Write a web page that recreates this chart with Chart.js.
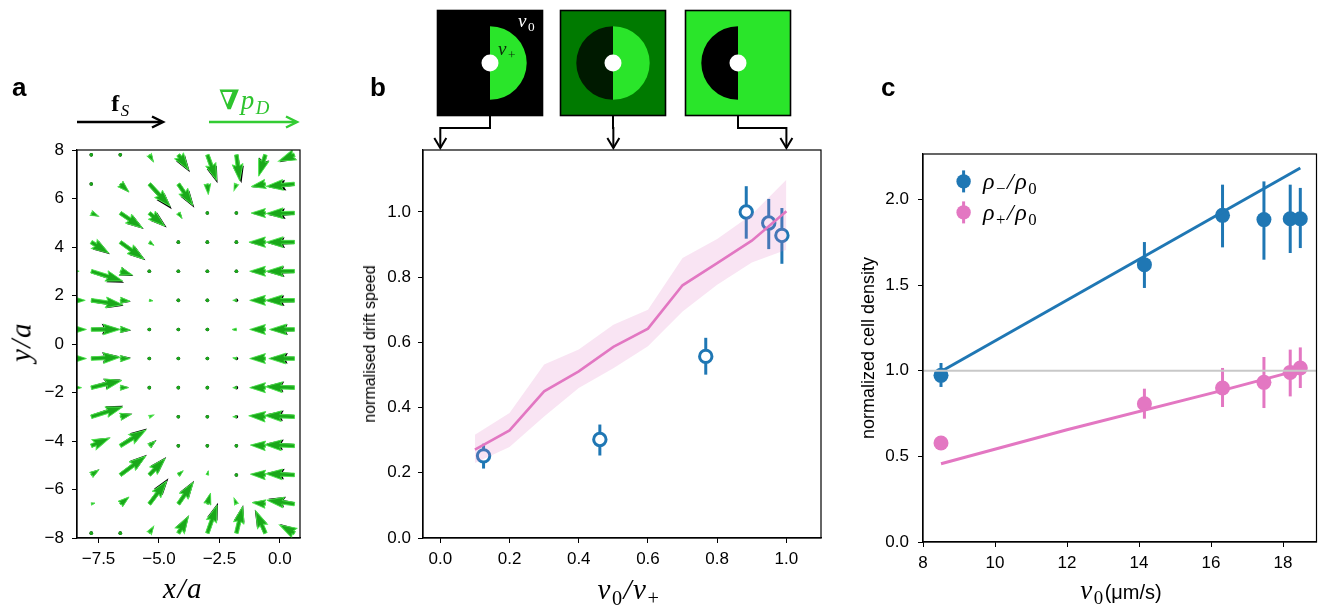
<!DOCTYPE html>
<html>
<head>
<meta charset="utf-8">
<script src="https://cdn.jsdelivr.net/npm/chart.js@4.4.1/dist/chart.umd.min.js"></script>
<style>
  html, body { margin: 0; padding: 0; background: #fff; }
  #fig { position: relative; width: 1324px; height: 607px; overflow: hidden; font-family: "Liberation Sans", Arial, sans-serif; }
  #fig canvas { position: absolute; top: 0; }
  .lbl { position: absolute; white-space: nowrap; line-height: 1; color: #000; }
  .math { font-family: "Liberation Serif", "DejaVu Serif", serif; font-style: italic; letter-spacing: 1.5px; }
  .math sub { font-size: 0.7em; vertical-align: -0.28em; font-style: normal; }
  .math sub.it { font-style: italic; }
  .panel { font-weight: bold; font-size: 26px; }
  .rot { transform: translate(-50%, -50%) rotate(-90deg); }
  .ctr { transform: translateX(-50%); }
</style>
</head>
<body>
<div id="fig">
  <canvas id="chart-a" width="330" height="607" style="left:0px"></canvas>
  <canvas id="chart-b" width="500" height="607" style="left:335px"></canvas>
  <canvas id="chart-c" width="489" height="607" style="left:835px"></canvas>

  <div class="lbl panel" style="left:12px; top:74px">a</div>
  <div class="lbl panel" style="left:370px; top:74px">b</div>
  <div class="lbl panel" style="left:881px; top:74px">c</div>

  <div class="lbl math ctr" style="left:121px; top:91px; font-size:24px"><b style="font-style:normal">f</b><sub class="it">S</sub></div>
  <div class="lbl math ctr" style="left:245px; top:87px; font-size:27px; color:#2ec42e"><b style="font-style:normal">&#8711;</b>p<sub class="it">D</sub></div>
  <div class="lbl math ctr" style="left:183px; top:574px; font-size:29px">x/a</div>
  <div class="lbl math rot" style="left:21px; top:342px; font-size:29px">y/a</div>

  <div class="lbl math" style="left:518px; top:11px; font-size:19px; color:#fff">v<sub>0</sub></div>
  <div class="lbl math" style="left:498px; top:39px; font-size:19px; color:#0b2a0b">v<sub>+</sub></div>
  <div class="lbl rot" style="left:370px; top:344px; font-size:16px">normalised drift speed</div>
  <div class="lbl math ctr" style="left:629px; top:575px; font-size:29px">v<sub>0</sub>/v<sub>+</sub></div>

  <div class="lbl math" style="left:983px; top:169px; font-size:24px">&#961;<sub>&#8722;</sub>/&#961;<sub>0</sub></div>
  <div class="lbl math" style="left:983px; top:200px; font-size:24px">&#961;<sub>+</sub>/&#961;<sub>0</sub></div>
  <div class="lbl rot" style="left:868px; top:348px; font-size:18px">normalized cell density</div>
  <div class="lbl ctr" style="left:1121px; top:577px; font-size:20px"><span class="math" style="font-size:27px">v<sub>0</sub></span>(&#956;m/s)</div>
</div>
<script>
const SANS = '"Liberation Sans", Arial, sans-serif';

// ---- panel a: quiver field (x/a, y/a), columns left to right, rows top to bottom
const quiverX = [-9.0, -7.8, -6.6, -5.4, -4.2, -3.0, -1.8, -0.6, 0.6];
const quiverY = [7.8, 6.6, 5.4, 4.2, 3.0, 1.8, 0.6, -0.6, -1.8, -3.0, -4.2, -5.4, -6.6, -7.8];

const gradU = [
  [0, 0, 0.04, 0.17, 0.42, 0.38, 0.14, -0.28, -0.66],
  [0, 0.03, 0.36, 0.86, 0.60, 0.04, -0.10, -0.59, -1.17],
  [0, 0.30, 0.92, 0.64, 0.15, 0.03, -0.10, -0.59, -1.17],
  [0, 0.72, 0.98, 0.19, 0, 0, -0.12, -0.68, -1.17],
  [0.70, 1.30, 0.50, 0.13, 0, 0, -0.12, -0.65, -1.17],
  [0.95, 1.30, 0.40, 0.15, 0, -0.10, -0.15, -0.65, -1.20],
  [1.00, 1.20, 0.41, 0.12, 0, 0, -0.18, -0.65, -1.03],
  [1.00, 1.20, 0.41, 0.12, 0, 0, -0.15, -0.65, -1.06],
  [0.80, 1.27, 0.34, 0.14, 0, 0, -0.15, -0.65, -1.20],
  [0.62, 1.30, 0.46, 0.18, 0, 0, -0.15, -0.69, -1.24],
  [0, 0.76, 1.06, 0.26, 0.09, 0, -0.12, -0.62, -1.24],
  [0, 0.32, 1.06, 0.66, 0.20, 0.04, -0.08, -0.62, -1.20],
  [0, 0.15, 0.36, 0.72, 0.62, 0.13, -0.10, -0.55, -1.14],
  [0, 0, 0.05, 0.18, 0.42, 0.40, 0.26, -0.40, -0.62],
];
const gradV = [
  [0, 0, -0.04, -0.28, -0.62, -1.05, -1.08, -0.88, -0.26],
  [0, -0.02, -0.33, -0.92, -0.88, -0.44, -0.27, -0.11, -0.10],
  [0, -0.13, -0.62, -0.54, -0.22, -0.13, 0.03, 0, -0.02],
  [0, -0.45, -0.70, -0.13, 0, 0, 0, 0, 0],
  [0, -0.40, -0.15, -0.03, 0, 0, 0, 0, 0],
  [0, -0.18, -0.03, -0.02, 0, 0, 0, 0, 0],
  [0, 0, -0.02, 0, 0, 0, 0, 0, 0],
  [0, 0.05, 0, 0, 0, 0, 0.03, 0, 0],
  [0, 0.30, 0, 0, 0, 0, 0, 0, 0.04],
  [0, 0.40, 0.10, 0.07, 0, 0, 0, 0.04, 0.05],
  [0, 0.32, 0.65, 0.20, 0.07, 0, 0, 0.03, 0.05],
  [0, 0.21, 0.78, 0.68, 0.17, 0.17, 0, 0.03, 0.05],
  [0, 0.04, 0.29, 0.95, 0.90, 0.45, 0.24, 0.06, 0.16],
  [0, 0, 0.05, 0.28, 0.70, 1.15, 1.10, 0.92, 0.34],
];
const forceU = [
  [0, 0, 0.04, 0.18, 0.48, 0.42, 0.21, -0.26, -0.62],
  [0, 0.03, 0.37, 0.93, 0.66, 0.05, -0.10, -0.55, -1.06],
  [0, 0.32, 0.97, 0.72, 0.17, 0.04, -0.10, -0.57, -1.08],
  [0, 0.77, 1.04, 0.20, 0, 0, -0.12, -0.66, -1.10],
  [0.66, 1.36, 0.54, 0.14, 0, 0, -0.12, -0.62, -1.12],
  [0.92, 1.34, 0.44, 0.16, 0, -0.10, -0.14, -0.63, -1.12],
  [0.98, 1.14, 0.45, 0.12, 0, 0, -0.16, -0.62, -0.98],
  [0.98, 1.16, 0.44, 0.12, 0, 0, -0.14, -0.62, -0.98],
  [0.78, 1.22, 0.36, 0.14, 0, 0, -0.14, -0.62, -1.14],
  [0.60, 1.32, 0.50, 0.18, 0, 0, -0.14, -0.66, -1.16],
  [0, 0.78, 1.10, 0.30, 0.10, 0, -0.12, -0.60, -1.16],
  [0, 0.34, 1.10, 0.70, 0.21, 0.04, -0.08, -0.60, -1.12],
  [0, 0.16, 0.37, 0.79, 0.65, 0.14, -0.10, -0.52, -1.08],
  [0, 0, 0.05, 0.19, 0.44, 0.44, 0.28, -0.44, -0.60],
];
const forceV = [
  [0, 0, -0.04, -0.30, -0.72, -1.17, -1.17, -0.84, -0.30],
  [0, -0.02, -0.35, -1.04, -0.98, -0.40, -0.26, -0.14, -0.15],
  [0, -0.14, -0.66, -0.60, -0.24, -0.14, 0.03, -0.02, -0.08],
  [0, -0.50, -0.75, -0.14, 0, 0, 0, -0.02, -0.05],
  [0, -0.47, -0.20, -0.03, 0, 0, 0, -0.02, -0.04],
  [0, -0.22, -0.06, -0.02, 0, 0, 0, 0, -0.04],
  [0, 0.03, -0.04, 0, 0, 0, -0.02, 0, -0.02],
  [0, 0.10, 0.03, 0, 0, 0, 0.02, 0, 0.03],
  [0, 0.34, 0.02, 0, 0, 0, 0, 0.02, 0.08],
  [0, 0.45, 0.12, 0.08, 0, 0, 0, 0.05, 0.10],
  [0, 0.34, 0.72, 0.24, 0.09, 0, 0, 0.04, 0.10],
  [0, 0.23, 0.83, 0.74, 0.18, 0.18, 0, 0.04, 0.09],
  [0, 0.04, 0.30, 1.06, 0.96, 0.47, 0.25, 0.08, 0.22],
  [0, 0, 0.05, 0.29, 0.74, 1.25, 1.16, 0.96, 0.38],
];
const xTicksA = [-7.5, -5.0, -2.5, 0.0];
const yTicksA = [-8, -6, -4, -2, 0, 2, 4, 6, 8];

// ---- panel b: drift speed vs v0/v+
const simX = [0.1, 0.2, 0.3, 0.4, 0.5, 0.6, 0.7, 0.8, 0.9, 1.0];
const simMean = [0.271, 0.330, 0.450, 0.511, 0.586, 0.642, 0.775, 0.843, 0.912, 1.002];
const simLow = [0.230, 0.279, 0.373, 0.460, 0.521, 0.588, 0.695, 0.777, 0.845, 0.884];
const simHigh = [0.317, 0.383, 0.532, 0.578, 0.654, 0.700, 0.859, 0.917, 0.992, 1.099];
const expX = [0.125, 0.461, 0.767, 0.884, 0.949, 0.987];
const expY = [0.252, 0.302, 0.557, 1.000, 0.966, 0.928];
const expLo = [0.213, 0.253, 0.501, 0.918, 0.886, 0.841];
const expHi = [0.289, 0.348, 0.614, 1.079, 1.040, 1.012];
const xTicksB = [0.0, 0.2, 0.4, 0.6, 0.8, 1.0];
const yTicksB = [0.0, 0.2, 0.4, 0.6, 0.8, 1.0];
const iconTargets = [0.0, 0.5, 1.0];

// ---- panel c: cell density vs v0
const speedV0 = [8.5, 14.15, 16.32, 17.47, 18.2, 18.48];
const rhoMinus = [0.973, 1.619, 1.907, 1.882, 1.887, 1.887];
const rhoMinusLo = [0.905, 1.483, 1.720, 1.648, 1.687, 1.716];
const rhoMinusHi = [1.045, 1.751, 2.086, 2.105, 2.086, 2.067];
const rhoPlus = [0.578, 0.807, 0.899, 0.932, 0.990, 1.016];
const rhoPlusLo = [0.565, 0.720, 0.788, 0.782, 0.850, 0.899];
const rhoPlusHi = [0.591, 0.895, 1.016, 1.080, 1.123, 1.136];
const fitMinusX = [8.5, 18.48];
const fitMinus = [0.995, 2.183];
const fitPlusX = [8.5, 12.0, 16.32, 18.48];
const fitPlus = [0.457, 0.655, 0.885, 1.006];
const baseline = 1.0;
const xTicksC = [8, 10, 12, 14, 16, 18];
const yTicksC = [0.0, 0.5, 1.0, 1.5, 2.0];

const BLUE = '#1f77b4';
const PINK = '#e377c2';
const LIGHT_GREEN = '#2ae52a';

const minus = s => s.replace('-', '\u2212');
const fmt1 = v => minus(Number(v).toFixed(1));
const fmt0 = v => minus(String(v));

function xAxis(ticks, fmt, min, max, height, size) {
  return {
    type: 'linear', min, max,
    grid: { drawOnChartArea: false, drawTicks: true, tickLength: 5, color: '#000', lineWidth: 1 },
    border: { display: true, color: '#000', width: 1.2 },
    ticks: { color: '#000', font: { family: SANS, size }, padding: 6, maxRotation: 0, autoSkip: false, callback: fmt },
    afterBuildTicks: axis => { axis.ticks = ticks.map(v => ({ value: v })); },
    afterFit: axis => { axis.height = height; },
  };
}
function yAxis(ticks, fmt, min, max, width, size, pad) {
  return {
    type: 'linear', min, max,
    grid: { drawOnChartArea: false, drawTicks: true, tickLength: 5, color: '#000', lineWidth: 1 },
    border: { display: true, color: '#000', width: 1.2 },
    ticks: { color: '#000', font: { family: SANS, size }, padding: pad, autoSkip: false, callback: fmt },
    afterBuildTicks: axis => { axis.ticks = ticks.map(v => ({ value: v })); },
    afterFit: axis => { axis.width = width; },
  };
}

const boxPlugin = {
  id: 'box',
  afterDraw(chart) {
    const { ctx, chartArea: a } = chart;
    ctx.save();
    ctx.strokeStyle = '#000';
    ctx.lineWidth = 1.2;
    ctx.strokeRect(a.left, a.top, a.right - a.left, a.bottom - a.top);
    ctx.restore();
  }
};

function baseOptions(padding) {
  return {
    responsive: false,
    animation: false,
    events: [],
    layout: { padding },
    plugins: { legend: { display: false }, tooltip: { enabled: false } },
  };
}

// matplotlib-like quiver arrow (pivot at tail)
const SHAFT = 3.6, HEAD_W = 10.8, HEAD_L = 17, HEAD_AXIS = 15.3;
function quiverArrow(ctx, x0, y0, x1, y1, fill, edge) {
  const dx = x1 - x0, dy = y1 - y0;
  const len = Math.hypot(dx, dy);
  ctx.fillStyle = fill;
  if (len < SHAFT) {
    ctx.beginPath();
    ctx.arc(x0, y0, 1.8, 0, Math.PI * 2);
    ctx.fill();
    return;
  }
  const k = len < HEAD_L ? len / HEAD_L : 1;
  const w = SHAFT * k / 2, hw = HEAD_W * k / 2, hl = HEAD_L * k, ha = HEAD_AXIS * k;
  ctx.save();
  ctx.translate(x0, y0);
  ctx.rotate(Math.atan2(dy, dx));
  ctx.beginPath();
  ctx.moveTo(0, -w);
  ctx.lineTo(len - ha, -w);
  ctx.lineTo(len - hl, -hw);
  ctx.lineTo(len, 0);
  ctx.lineTo(len - hl, hw);
  ctx.lineTo(len - ha, w);
  ctx.lineTo(0, w);
  ctx.closePath();
  ctx.fill();
  if (edge) {
    ctx.strokeStyle = edge;
    ctx.lineWidth = 0.9;
    ctx.stroke();
  }
  ctx.restore();
}

function drawField(chart, U, V, fill, edge) {
  const { ctx, scales: { x, y } } = chart;
  quiverY.forEach((qy, i) => {
    quiverX.forEach((qx, j) => {
      quiverArrow(ctx,
        x.getPixelForValue(qx), y.getPixelForValue(qy),
        x.getPixelForValue(qx + U[i][j]), y.getPixelForValue(qy + V[i][j]),
        fill, edge);
    });
  });
}

function keyArrow(ctx, x0, x1, yy, color) {
  ctx.save();
  ctx.strokeStyle = color;
  ctx.lineWidth = 2.5;
  ctx.beginPath();
  ctx.moveTo(x0, yy);
  ctx.lineTo(x1 - 1, yy);
  ctx.stroke();
  ctx.lineJoin = 'miter';
  ctx.beginPath();
  ctx.moveTo(x1 - 11, yy - 5.5);
  ctx.lineTo(x1, yy);
  ctx.lineTo(x1 - 11, yy + 5.5);
  ctx.stroke();
  ctx.restore();
}

const quiverPlugin = {
  id: 'quiver',
  afterDatasetsDraw(chart) {
    const { ctx, chartArea: a } = chart;
    ctx.save();
    ctx.beginPath();
    ctx.rect(a.left, a.top, a.right - a.left, a.bottom - a.top);
    ctx.clip();
    drawField(chart, forceU, forceV, '#000', null);
    drawField(chart, gradU, gradV, '#1aa81a', '#4fe84f');
    ctx.restore();
    // key arrows above the field
    keyArrow(ctx, a.left, a.left + 86, a.top - 28, '#000');
    keyArrow(ctx, a.left + 132, a.left + 220, a.top - 28, '#33cc33');
  }
};

new Chart(document.getElementById('chart-a'), {
  type: 'scatter',
  data: { datasets: [] },
  options: Object.assign(baseOptions({ top: 150, right: 30, bottom: 0, left: 0 }), {
    scales: {
      x: xAxis(xTicksA, fmt1, -8.39, 0.83, 69, 17),
      y: yAxis(yTicksA, fmt0, -8, 8, 77, 17, 8),
    },
  }),
  plugins: [quiverPlugin, boxPlugin],
});

// error bars drawn just before the marker dataset they belong to
function errorBarPlugin(id, bars) {
  return {
    id,
    beforeDatasetDraw(chart, args) {
      const bar = bars.find(b => b.index === args.index);
      if (!bar) return;
      const { ctx, scales: { x, y } } = chart;
      ctx.save();
      ctx.strokeStyle = bar.color;
      ctx.lineWidth = 3;
      bar.xs.forEach((xv, i) => {
        const px = x.getPixelForValue(xv);
        ctx.beginPath();
        ctx.moveTo(px, y.getPixelForValue(bar.lo[i]));
        ctx.lineTo(px, y.getPixelForValue(bar.hi[i]));
        ctx.stroke();
      });
      ctx.restore();
    }
  };
}

// ---- panel b
const CANVAS_B_LEFT = 335;
const iconPageX = [490, 613, 738];
const ICON_SIZE = 105, ICON_TOP = 10.5, DISK_R = 36.7, HOLE_R = 8.5;

function drawIcon(ctx, cx, kind) {
  const cy = ICON_TOP + ICON_SIZE / 2;
  const bg = kind === 0 ? '#000' : kind === 1 ? '#007a00' : LIGHT_GREEN;
  ctx.fillStyle = bg;
  ctx.fillRect(cx - ICON_SIZE / 2, ICON_TOP, ICON_SIZE, ICON_SIZE);
  ctx.strokeStyle = '#000';
  ctx.lineWidth = 1.6;
  ctx.strokeRect(cx - ICON_SIZE / 2, ICON_TOP, ICON_SIZE, ICON_SIZE);
  if (kind !== 2) {
    ctx.fillStyle = LIGHT_GREEN;
    ctx.beginPath();
    ctx.moveTo(cx, cy);
    ctx.arc(cx, cy, DISK_R, -Math.PI / 2, Math.PI / 2);
    ctx.closePath();
    ctx.fill();
  }
  if (kind !== 0) {
    ctx.fillStyle = kind === 1 ? '#001a00' : '#000';
    ctx.beginPath();
    ctx.moveTo(cx, cy);
    ctx.arc(cx, cy, DISK_R, Math.PI / 2, Math.PI * 1.5);
    ctx.closePath();
    ctx.fill();
  }
  ctx.fillStyle = '#fff';
  ctx.beginPath();
  ctx.arc(cx, cy, HOLE_R, 0, Math.PI * 2);
  ctx.fill();
}

const iconPlugin = {
  id: 'icons',
  afterDraw(chart) {
    const { ctx, chartArea: a, scales: { x } } = chart;
    ctx.save();
    iconPageX.forEach((px, i) => {
      const cx = px - CANVAS_B_LEFT;
      drawIcon(ctx, cx, i);
      const tx = x.getPixelForValue(iconTargets[i]);
      const bend = ICON_TOP + ICON_SIZE + 12.6;
      const tip = a.top - 2;
      ctx.strokeStyle = '#000';
      ctx.lineWidth = 2;
      ctx.beginPath();
      ctx.moveTo(cx, ICON_TOP + ICON_SIZE);
      ctx.lineTo(cx, bend);
      ctx.lineTo(tx, bend);
      ctx.lineTo(tx, tip);
      ctx.stroke();
      ctx.beginPath();
      ctx.moveTo(tx - 6, tip - 10);
      ctx.lineTo(tx, tip);
      ctx.lineTo(tx + 6, tip - 10);
      ctx.stroke();
    });
    ctx.restore();
  }
};

const xy = (xs, ys) => xs.map((v, i) => ({ x: v, y: ys[i] }));

new Chart(document.getElementById('chart-b'), {
  type: 'line',
  data: {
    datasets: [
      { label: 'sim low', data: xy(simX, simLow), borderWidth: 0, pointRadius: 0, fill: false, borderColor: 'rgba(0,0,0,0)' },
      { label: 'sim band', data: xy(simX, simHigh), borderWidth: 0, pointRadius: 0, fill: '-1', borderColor: 'rgba(0,0,0,0)', backgroundColor: 'rgba(227,119,194,0.2)' },
      { label: 'simulation', data: xy(simX, simMean), borderColor: PINK, borderWidth: 2.6, pointRadius: 0, fill: false },
      { label: 'experiment', data: xy(expX, expY), showLine: false, pointRadius: 6.2, borderWidth: 3, borderColor: BLUE, backgroundColor: '#fff', pointStyle: 'circle' },
    ],
  },
  options: Object.assign(baseOptions({ top: 150, right: 14, bottom: 0, left: 0 }), {
    scales: {
      x: xAxis(xTicksB, fmt1, -0.05, 1.1, 69, 17),
      y: yAxis(yTicksB, fmt1, 0, 1.19, 88, 17, 7),
    },
  }),
  plugins: [errorBarPlugin('errB', [{ index: 3, xs: expX, lo: expLo, hi: expHi, color: BLUE }]), iconPlugin, boxPlugin],
});

// ---- panel c
const legendPlugin = {
  id: 'legendC',
  afterDraw(chart) {
    const { ctx, chartArea: a } = chart;
    [[BLUE, 27.4], [PINK, 58.4]].forEach(([c, dy]) => {
      const lx = a.left + 40.6, ly = a.top + dy;
      ctx.save();
      ctx.strokeStyle = c;
      ctx.fillStyle = c;
      ctx.lineWidth = 3;
      ctx.beginPath();
      ctx.moveTo(lx, ly - 11);
      ctx.lineTo(lx, ly + 11);
      ctx.stroke();
      ctx.beginPath();
      ctx.arc(lx, ly, 7.2, 0, Math.PI * 2);
      ctx.fill();
      ctx.restore();
    });
  }
};

new Chart(document.getElementById('chart-c'), {
  type: 'line',
  data: {
    datasets: [
      { label: 'reference', data: xy([8, 18.93], [baseline, baseline]), borderColor: '#c8c8c8', borderWidth: 2, pointRadius: 0 },
      { label: 'fit minus', data: xy(fitMinusX, fitMinus), borderColor: BLUE, borderWidth: 3, pointRadius: 0 },
      { label: 'fit plus', data: xy(fitPlusX, fitPlus), borderColor: PINK, borderWidth: 3, pointRadius: 0 },
      { label: '\u03c1\u2212/\u03c10', data: xy(speedV0, rhoMinus), showLine: false, pointRadius: 7.5, borderWidth: 0, backgroundColor: BLUE, borderColor: BLUE },
      { label: '\u03c1+/\u03c10', data: xy(speedV0, rhoPlus), showLine: false, pointRadius: 7.5, borderWidth: 0, backgroundColor: PINK, borderColor: PINK },
    ],
  },
  options: Object.assign(baseOptions({ top: 154, right: 4, bottom: 0, left: 0 }), {
    scales: {
      x: xAxis(xTicksC, fmt0, 8, 18.93, 65, 17),
      y: yAxis(yTicksC, fmt1, 0, 2.265, 88, 17, 9),
    },
  }),
  plugins: [
    errorBarPlugin('errC', [
      { index: 3, xs: speedV0, lo: rhoMinusLo, hi: rhoMinusHi, color: BLUE },
      { index: 4, xs: speedV0, lo: rhoPlusLo, hi: rhoPlusHi, color: PINK },
    ]),
    legendPlugin, boxPlugin,
  ],
});
</script>
</body>
</html>
